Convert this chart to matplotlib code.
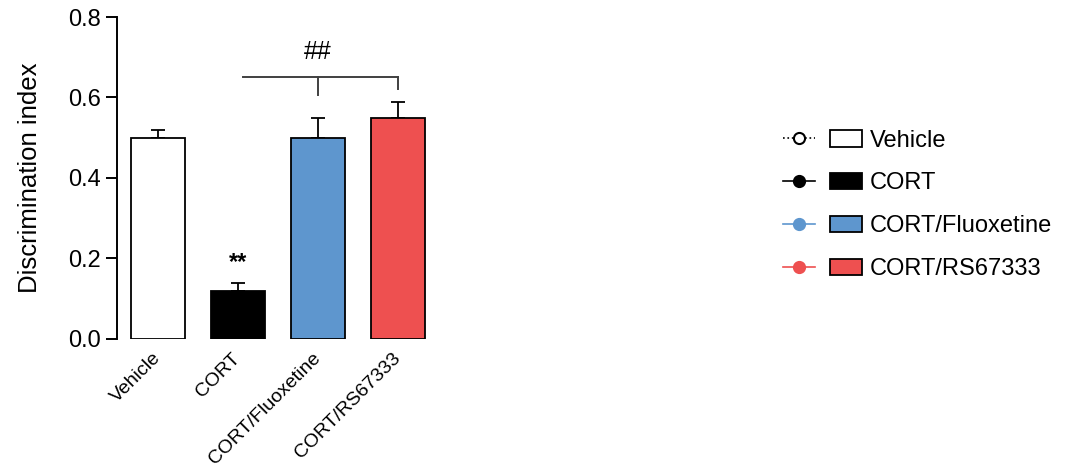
import matplotlib
matplotlib.use('Agg')
import matplotlib.pyplot as plt
import numpy as np
from matplotlib.lines import Line2D
from matplotlib.patches import Patch
from matplotlib.legend_handler import HandlerTuple

plt.rcParams['font.family'] = ['Liberation Sans', 'DejaVu Sans']

# Datos
groups = ['Vehicle', 'CORT', 'CORT/Fluoxetine', 'CORT/RS67333']
means = [0.50, 0.12, 0.50, 0.55]
sem = [0.02, 0.02, 0.05, 0.04]
colors = ['#FFFFFF', '#000000', '#5E96CE', '#EE5050']
line_colors = ['#000000', '#000000', '#5E96CE', '#EE5050']
line_styles = [':', '-', '-', '-']
marker_faces = ['#FFFFFF', '#000000', '#5E96CE', '#EE5050']

fig = plt.figure(figsize=(10.66, 4.71), dpi=100)
ax = fig.add_axes([0.1098, 0.2803, 0.301, 0.6836])

x = np.arange(len(groups))
ax.bar(x, means, width=0.675, color=colors, edgecolor='black', linewidth=1.3, zorder=2)
ax.errorbar(x, means, yerr=[np.zeros(len(sem)), sem], fmt='none', ecolor='black',
            elinewidth=1.3, capsize=5, capthick=1.3, zorder=1)

# Significancia
ax.text(1, 0.189, '**', ha='center', va='center', fontsize=17, fontweight='bold')
bracket_y = 0.651
gray = '#404040'
ax.plot([1.06, 3.0], [bracket_y, bracket_y], color=gray, lw=1.4)
ax.plot([2, 2], [bracket_y, 0.606], color=gray, lw=1.4)
ax.plot([3, 3], [bracket_y, 0.621], color=gray, lw=1.4)
ax.text(2, 0.713, '##', ha='center', va='center', fontsize=18)

ax.set_xlim(-0.5125, 3.5)
ax.set_ylim(0, 0.8)
ax.set_yticks([0, 0.2, 0.4, 0.6, 0.8])
ax.set_yticklabels(['0.0', '0.2', '0.4', '0.6', '0.8'])
ax.set_xticks(x)
ax.set_xticklabels(groups, rotation=45, ha='right', va='center', rotation_mode='anchor',
                   fontsize=14)
ax.tick_params(axis='y', labelsize=17, length=8, width=1.4, direction='out')
ax.tick_params(axis='x', length=0, pad=12)
for s in ['top', 'right', 'bottom']:
    ax.spines[s].set_visible(False)
ax.spines['left'].set_linewidth(1.4)
ax.set_ylabel('Discrimination index', fontsize=18.5, labelpad=19)

# Leyenda
handles = []
for i in range(len(groups)):
    ln = Line2D([], [], color=line_colors[i], ls=line_styles[i], lw=1.2, marker='o',
                markersize=8, markerfacecolor=marker_faces[i], markeredgecolor=line_colors[i],
                markeredgewidth=1.5)
    pt = Patch(facecolor=colors[i], edgecolor='black', linewidth=1.3)
    handles.append((ln, pt))
fig.legend(handles, groups, handler_map={tuple: HandlerTuple(ndivide=None, pad=0.64)},
           loc='center left', bbox_to_anchor=(0.723, 0.565), frameon=False, fontsize=17,
           handlelength=3.35, handletextpad=0.35, labelspacing=0.88, borderpad=0)

plt.savefig('out.png', dpi=100)
